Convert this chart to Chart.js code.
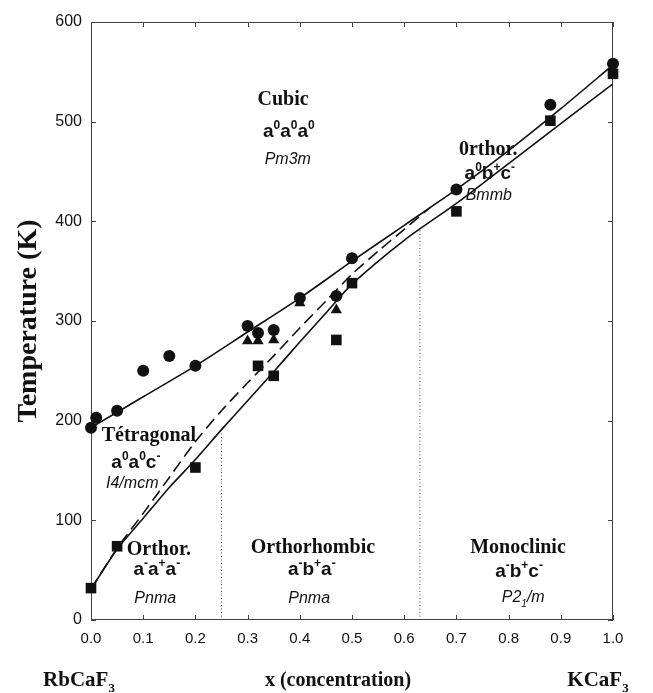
<!DOCTYPE html>
<html>
<head>
<meta charset="utf-8">
<script src="https://cdn.jsdelivr.net/npm/chart.js@4.4.0/dist/chart.umd.min.js"></script>
<style>
  html, body { margin: 0; padding: 0; background: #fff; }
  #wrap { width: 653px; height: 693px; }
</style>
</head>
<body>
<div id="wrap"><canvas id="phase" width="653" height="693"></canvas></div>
<script>
// Measured transition temperatures (K) vs K concentration x
const circleX = [0.0, 0.01, 0.05, 0.1, 0.15, 0.2, 0.3, 0.32, 0.35, 0.4, 0.47, 0.5, 0.7, 0.88, 1.0];
const circleT = [193, 203, 210, 250, 265, 255, 295, 288, 291, 323, 325, 363, 432, 517, 558];

const triangleX = [0.3, 0.32, 0.35, 0.4, 0.47];
const triangleT = [280, 280, 281, 318, 311];

const squareX = [0.0, 0.05, 0.2, 0.32, 0.35, 0.47, 0.5, 0.7, 0.88, 1.0];
const squareT = [32, 74, 153, 255, 245, 281, 338, 410, 501, 548];

// Phase boundaries
const cubicX = [0, 0.1, 0.2, 0.3, 0.4, 0.5, 0.6, 0.7, 0.8, 0.9, 1.0];
const cubicT = [193, 224, 255, 289, 323, 360, 396, 432, 471, 513, 557];

const dashedX = [0, 0.05, 0.1, 0.15, 0.2, 0.25, 0.3, 0.35, 0.4, 0.45, 0.5, 0.55, 0.6, 0.65];
const dashedT = [31, 72, 107, 143, 179, 210, 238, 265, 293, 320, 347, 370, 392, 414];

const lowerX = [0, 0.05, 0.1, 0.15, 0.2, 0.25, 0.3, 0.35, 0.4, 0.45, 0.5, 0.6, 0.7, 0.8, 0.9, 1.0];
const lowerT = [31, 71, 102, 133, 161, 191, 220, 249, 279, 308, 337, 381, 418, 458, 498, 538];

// Vertical dotted separators between low-temperature phases
const dividerX = [0.25, 0.63];
const dividerTop = [190, 392];

const xTickStep = 0.1;
const yTickStep = 100;

const SERIF = '"Liberation Serif", "Times New Roman", serif';
const SANS = '"Liberation Sans", Arial, sans-serif';
const INK = '#111';

// Phase names: x / temperature anchor, '^' = superscript, '_' = subscript
const regionLabels = [
  { x: 0.368, t: 517, text: 'Cubic', kind: 'name' },
  { x: 0.379, t: 485, text: 'a^0a^0a^0', kind: 'tilt' },
  { x: 0.377, t: 458, text: 'Pm3m', kind: 'group' },
  { x: 0.761, t: 467, text: '0rthor.', kind: 'name' },
  { x: 0.764, t: 442, text: 'a^0b^+c^-', kind: 'tilt' },
  { x: 0.762, t: 421, text: 'Bmmb', kind: 'group' },
  { x: 0.111, t: 180, text: 'Tétragonal', kind: 'name' },
  { x: 0.086, t: 153, text: 'a^0a^0c^-', kind: 'tilt' },
  { x: 0.079, t: 132, text: 'I4/mcm', kind: 'group' },
  { x: 0.130, t: 65, text: 'Orthor.', kind: 'name' },
  { x: 0.126, t: 45, text: 'a^-a^+a^-', kind: 'tilt' },
  { x: 0.123, t: 17, text: 'Pnma', kind: 'group' },
  { x: 0.425, t: 67, text: 'Orthorhombic', kind: 'name' },
  { x: 0.423, t: 45, text: 'a^-b^+a^-', kind: 'tilt' },
  { x: 0.418, t: 17, text: 'Pnma', kind: 'group' },
  { x: 0.818, t: 67, text: 'Monoclinic', kind: 'name' },
  { x: 0.820, t: 43, text: 'a^-b^+c^-', kind: 'tilt' },
  { x: 0.828, t: 18, text: 'P2_1/m', kind: 'group' },
];

const labelFonts = {
  name: { size: 20, family: SERIF, style: 'bold' },
  tilt: { size: 19, family: SANS, style: 'bold' },
  group: { size: 16, family: SANS, style: 'italic' },
};

function parseRich(str) {
  const parts = [];
  for (let i = 0; i < str.length; i++) {
    const c = str[i];
    if ((c === '^' || c === '_') && i + 1 < str.length) {
      parts.push([str[i + 1], c === '^' ? 'sup' : 'sub']);
      i++;
    } else if (parts.length && parts[parts.length - 1][1] === '') {
      parts[parts.length - 1][0] += c;
    } else {
      parts.push([c, '']);
    }
  }
  return parts;
}

function drawRich(ctx, str, cx, y, font) {
  const parts = parseRich(str);
  const small = Math.round(font.size * 0.62);
  const fontFor = k => `${font.style} ${k ? small : font.size}px ${font.family}`;
  let total = 0;
  for (const [t, k] of parts) {
    ctx.font = fontFor(k);
    total += ctx.measureText(t).width;
  }
  let x = cx - total / 2;
  ctx.textAlign = 'left';
  ctx.textBaseline = 'alphabetic';
  for (const [t, k] of parts) {
    ctx.font = fontFor(k);
    const dy = k === 'sup' ? -font.size * 0.42 : k === 'sub' ? font.size * 0.28 : 0;
    ctx.fillText(t, x, y + dy);
    x += ctx.measureText(t).width;
  }
}

const toPoints = (xs, ys) => xs.map((x, i) => ({ x, y: ys[i] }));

const markerSet = (xs, ys, style, radius) => ({
  data: toPoints(xs, ys),
  pointStyle: style,
  pointRadius: radius,
  pointHoverRadius: radius,
  pointBackgroundColor: INK,
  pointBorderWidth: 0,
  showLine: false,
  clip: false,
});

const curveSet = (xs, ys, dash) => ({
  data: toPoints(xs, ys),
  showLine: true,
  borderColor: INK,
  borderWidth: 1.6,
  borderDash: dash,
  pointRadius: 0,
  tension: 0.25,
  order: 5,
});

const dividerSets = dividerX.map((x, i) => ({
  data: [{ x, y: 0 }, { x, y: dividerTop[i] }],
  showLine: true,
  borderColor: '#444',
  borderWidth: 1,
  borderDash: [1, 2.5],
  pointRadius: 0,
  order: 6,
}));

const phaseDecor = {
  id: 'phaseDecor',
  beforeDatasetsDraw(chart) {
    const { ctx, chartArea: a, scales } = chart;
    ctx.save();
    ctx.strokeStyle = '#444';
    ctx.lineWidth = 1;
    ctx.strokeRect(a.left + 0.5, a.top + 0.5, a.right - a.left - 1, a.bottom - a.top - 1);
    ctx.beginPath();
    for (const tk of scales.x.ticks) {
      const px = Math.round(scales.x.getPixelForValue(tk.value)) + 0.5;
      ctx.moveTo(px, a.bottom); ctx.lineTo(px, a.bottom - 5);
      ctx.moveTo(px, a.top); ctx.lineTo(px, a.top + 5);
    }
    for (const tk of scales.y.ticks) {
      const py = Math.round(scales.y.getPixelForValue(tk.value)) + 0.5;
      ctx.moveTo(a.left, py); ctx.lineTo(a.left + 5, py);
      ctx.moveTo(a.right, py); ctx.lineTo(a.right - 5, py);
    }
    ctx.stroke();
    ctx.restore();
  },
  afterDatasetsDraw(chart) {
    const { ctx, chartArea: a, scales } = chart;
    ctx.save();
    ctx.fillStyle = INK;
    for (const lab of regionLabels) {
      drawRich(ctx, lab.text, scales.x.getPixelForValue(lab.x), scales.y.getPixelForValue(lab.t), labelFonts[lab.kind]);
    }

    const axisFont = { size: 20, family: SERIF, style: 'bold' };
    const endFont = { size: 21, family: SERIF, style: 'bold' };
    drawRich(ctx, 'x (concentration)', 338, 686, axisFont);
    drawRich(ctx, 'RbCaF_3', 79, 686, endFont);
    drawRich(ctx, 'KCaF_3', 598, 686, endFont);

    ctx.translate(36, (a.top + a.bottom) / 2);
    ctx.rotate(-Math.PI / 2);
    drawRich(ctx, 'Temperature (K)', 0, 0, { size: 28, family: SERIF, style: 'bold' });
    ctx.restore();
  },
};

new Chart(document.getElementById('phase'), {
  type: 'scatter',
  data: {
    datasets: [
      { ...markerSet(circleX, circleT, 'circle', 6), order: 0 },
      { ...markerSet(triangleX, triangleT, 'triangle', 6.5), order: 1 },
      { ...markerSet(squareX, squareT, 'rect', 7.5), order: 2 },
      curveSet(cubicX, cubicT, []),
      curveSet(dashedX, dashedT, [12, 6]),
      curveSet(lowerX, lowerT, []),
      ...dividerSets,
    ],
  },
  options: {
    responsive: false,
    animation: false,
    devicePixelRatio: 1,
    layout: { padding: { top: 22, right: 40, left: 0, bottom: 0 } },
    plugins: { legend: { display: false }, tooltip: { enabled: false } },
    events: [],
    scales: {
      x: {
        type: 'linear',
        min: 0,
        max: 1,
        grid: { display: false, drawTicks: false },
        border: { display: false },
        ticks: {
          stepSize: xTickStep,
          padding: 10,
          color: INK,
          font: { family: SANS, size: 15 },
          callback: v => Number(v).toFixed(1),
        },
        afterFit: s => { s.height = 73; },
      },
      y: {
        min: 0,
        max: 600,
        grid: { display: false, drawTicks: false },
        border: { display: false },
        ticks: {
          stepSize: yTickStep,
          padding: 9,
          color: INK,
          font: { family: SANS, size: 16 },
        },
        afterFit: s => { s.width = 91; },
      },
    },
  },
  plugins: [phaseDecor],
});
</script>
</body>
</html>
